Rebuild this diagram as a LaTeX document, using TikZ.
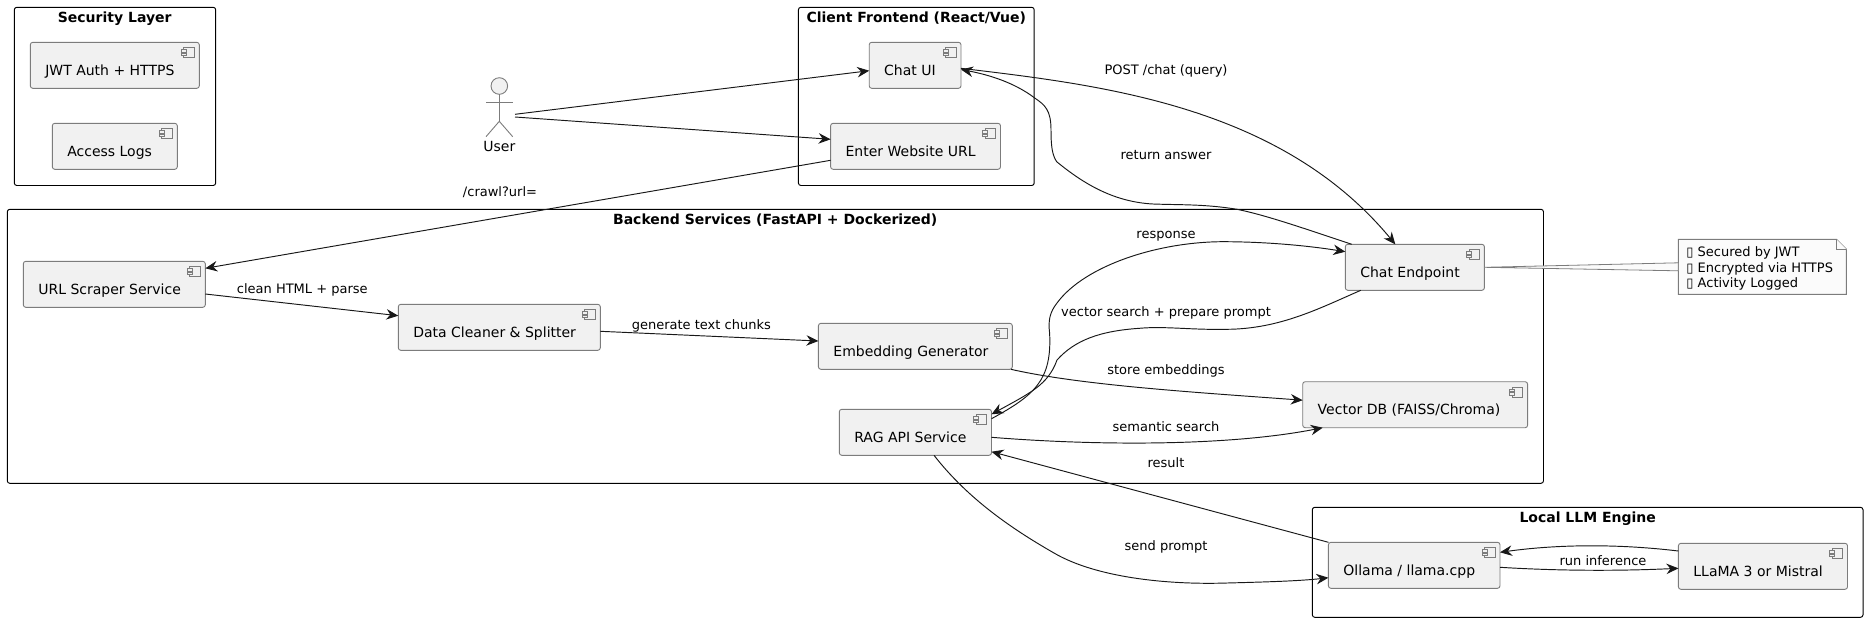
\documentclass[tikz,border=0pt]{standalone}
\usepackage{fontspec}
\setmainfont{DejaVu Sans}
\usetikzlibrary{arrows.meta}
\definecolor{compfill}{HTML}{F1F1F1}
\definecolor{compline}{HTML}{7C7C7C}
\definecolor{inkline}{HTML}{181818}
\definecolor{notefill}{HTML}{FBFBFB}
\tikzset{
  x=1pt,y=-1pt,
  compbox/.style={draw=compline,fill=compfill,line width=0.9pt,rounded corners=2.5pt,outer sep=0pt,inner sep=0pt},
  comptext/.style={anchor=base west,inner sep=0pt,outer sep=0pt,font=\fontsize{14}{14}\selectfont,text=black},
  icon/.style={draw=compline,fill=compfill,line width=0.7pt},
  clusterbox/.style={draw=black,fill=white,line width=0.95pt,rounded corners=2.5pt,outer sep=0pt,inner sep=0pt},
  clustertitle/.style={anchor=base,inner sep=0pt,outer sep=0pt,font=\fontsize{14}{14}\selectfont\bfseries,text=black},
  edgelabel/.style={anchor=base,inner sep=0pt,outer sep=0pt,font=\fontsize{13}{13}\selectfont,text=black},
  flow/.style={draw=inkline,line width=0.95pt,-{Stealth[length=12pt,width=10.5pt,inset=4pt]}},
  notetext/.style={anchor=base west,inner sep=0pt,outer sep=0pt,font=\fontsize{13}{13}\selectfont,text=black},
  actor/.style={draw=compline,line width=0.9pt},
}
\newcommand{\cluster}[7]{% name x1 y1 x2 y2 title titlex
  \node[clusterbox,minimum width={#4-#2},minimum height={#5-#3}] (#1) at ({(#2+#4)/2},{(#3+#5)/2}) {};
  \node[clustertitle] (#1-title) at (#7,#3+15.4) {#6};
}
\newcommand{\comp}[6]{% name x1 y1 x2 y2 text
  \node[compbox,minimum width={#4-#2},minimum height={#5-#3}] (#1) at ({(#2+#4)/2},{(#3+#5)/2}) {};
  \node[comptext] (#1-text) at (#2+15,#3+33) {#6};
  \begin{scope}[shift={(#1.north east)}]
    \path[icon] (-15.5,5.3) rectangle (-5,15.3);
    \path[icon] (-18,7.3) rectangle (-13,9.6);
    \path[icon] (-18,11) rectangle (-13,13.3);
  \end{scope}
}
\newcommand{\tofu}{▯}
\begin{document}
\begin{tikzpicture}
\useasboundingbox (0,0) rectangle (1868,622);
% clusters
\cluster{security}{14.3}{7.3}{215.7}{185.5}{Security Layer}{114.7}
\cluster{client}{798.4}{7.3}{1034.2}{185.5}{Client Frontend (React/Vue)}{916.3}
\cluster{backend}{7.3}{209.3}{1543.5}{483.3}{Backend Services (FastAPI + Dockerized)}{775.2}
\cluster{engine}{1312.3}{507.3}{1863}{617.3}{Local LLM Engine}{1587.7}
% components
\comp{jwt}{30.3}{42.3}{199.3}{88.3}{JWT Auth + HTTPS}
\comp{logs}{52.3}{123.3}{177.3}{169.3}{Access Logs}
\comp{chatui}{869.2}{42.3}{961}{88.3}{Chat UI}
\comp{enter}{830.6}{123.3}{1000.5}{169.3}{Enter Website URL}
\comp{scraper}{23.3}{261.3}{205.3}{307.3}{URL Scraper Service}
\comp{cleaner}{398.3}{304.3}{600.3}{350.3}{Data Cleaner \& Splitter}
\comp{embed}{818.4}{323.3}{1012.3}{369.3}{Embedding Generator}
\comp{chatend}{1345.3}{244.3}{1484.4}{290.3}{Chat Endpoint}
\comp{vecdb}{1302.7}{381.7}{1527.6}{427.7}{Vector DB (FAISS/Chroma)}
\comp{rag}{839.3}{409.3}{991.5}{455.3}{RAG API Service}
\comp{ollama}{1328.4}{542.3}{1500}{588.3}{Ollama / llama.cpp}
\comp{llama}{1678.4}{543.3}{1847.5}{589.3}{LLaMA 3 or Mistral}
% actor
\draw[actor,fill=compfill] (499.3,86) circle (8.3);
\draw[actor] (499.3,94.3) -- (499.3,121.3);
\draw[actor] (486,102) -- (512.7,102);
\draw[actor] (486,136.7) -- (499.3,121.3) -- (512.7,136.7);
\node[anchor=base,inner sep=0pt,font=\fontsize{14}{14}\selectfont] (userlabel) at (499.3,151) {User};
\coordinate (usera) at (515,114.3);
\coordinate (userb) at (515,117);
% note
\node[inner sep=0pt,outer sep=0pt,minimum width=168.1,minimum height=55] (note) at (1762.35,266.8) {};
\path[draw=compline,fill=notefill,line width=0.9pt]
  (note.north west) -- ([xshift=-10pt]note.north east) -- ([yshift=-10pt]note.north east)
  -- (note.south east) -- (note.south west) -- cycle;
\path[draw=compline,fill=notefill,line width=0.7pt]
  ([xshift=-10pt]note.north east) -- ([xshift=-10pt,yshift=-10pt]note.north east) -- ([yshift=-10pt]note.north east);
\node[notetext] (notea) at (1686.4,256.7) {\tofu{} Secured by JWT};
\node[notetext] (noteb) at (1686.4,272) {\tofu{} Encrypted via HTTPS};
\node[notetext] (notec) at (1686.4,287.3) {\tofu{} Activity Logged};
\path[draw=compline,fill=notefill,line width=0.8pt]
  (chatend.east) -- ([yshift=4pt]note.west) -- ([yshift=-4pt]note.west) -- cycle;
% connectors
\draw[flow] (usera) -- ([yshift=-5.4pt]chatui.west);
\draw[flow] (userb) -- ([yshift=7pt]enter.west);
\draw[flow] ([yshift=-14pt]enter.west) -- ([yshift=16pt]scraper.east);
\draw[flow] ([yshift=-9.7pt]scraper.east) -- ([yshift=11.6pt]cleaner.west);
\draw[flow] ([yshift=-4pt]cleaner.east) -- ([yshift=5.3pt]embed.west);
\draw[flow] ([xshift=-1.4pt]embed.south east) .. controls (1080,385) and (1190,392) .. ([yshift=4.5pt]vecdb.west);
\draw[flow] ([yshift=-5pt]rag.east) .. controls (1100,446) and (1230,446) .. ([xshift=20pt]vecdb.south west);
\draw[flow] ([yshift=-3pt]chatui.east) .. controls (1100,85) and (1280,105) .. ([xshift=50pt]chatend.north west);
\draw[flow] ([xshift=6.4pt]chatend.north west)
  .. controls (1300,227) and (1265,215) .. (1237,209.3)
  .. controls (1205,204) and (1180,205) .. (1153,204)
  .. controls (1115,202) and (1085,185) .. (1056.7,161.7)
  .. controls (1052,155) and (1051,145) .. (1051,130)
  .. controls (1051,110) and (1045,105) .. (1034.7,98)
  .. controls (1015,83) and (990,75) .. ([yshift=-4.2pt]chatui.east);
\draw[flow] ([yshift=13.6pt]rag.east)
  .. controls (1035,395) and (1052,380) .. (1049.6,333)
  .. controls (1048,320) and (1050,312) .. (1057,303)
  .. controls (1085,265) and (1160,241) .. (1226.6,241.7)
  .. controls (1270,242) and (1310,246) .. ([yshift=15.6pt]chatend.west);
\draw[flow] ([xshift=15.5pt]chatend.south west)
  .. controls (1320,308) and (1280,329) .. (1226.6,329.3)
  .. controls (1190,330) and (1165,326) .. (1139.3,328.3)
  .. controls (1100,331) and (1075,340) .. (1057,360)
  .. controls (1048,385) and (1030,393) .. ([yshift=18pt]rag.east);
\draw[flow] (ollama.north west) -- ([yshift=-19.4pt]rag.east);
\draw[flow] ([xshift=18.6pt]rag.south)
  .. controls (965,495) and (1005,525) .. (1054,553)
  .. controls (1095,577) and (1165,585) .. (1227,583)
  .. controls (1265,582) and (1300,581) .. ([yshift=-12.4pt]ollama.west);
\draw[flow] ([yshift=-2pt]ollama.east) .. controls (1560,571) and (1620,571) .. ([yshift=-2pt]llama.west);
\draw[flow] ([yshift=15.3pt]llama.west) .. controls (1620,544) and (1560,544) .. ([yshift=13pt]ollama.east);
% connector labels
\node[edgelabel] (l1) at (500,196.7) {/crawl?url=};
\node[edgelabel] (l2) at (302.3,293.3) {clean HTML + parse};
\node[edgelabel] (l3) at (701.3,329) {generate text chunks};
\node[edgelabel] (l4) at (1166,74.3) {POST /chat (query)};
\node[edgelabel] (l5) at (1166,159.3) {return answer};
\node[edgelabel] (l6) at (1166,238.3) {response};
\node[edgelabel] (l7) at (1166,316.7) {vector search + prepare prompt};
\node[edgelabel] (l8) at (1166,374) {store embeddings};
\node[edgelabel] (l9) at (1166,431) {semantic search};
\node[edgelabel] (l10) at (1166,467.3) {result};
\node[edgelabel] (l11) at (1166,550) {send prompt};
\node[edgelabel] (l12) at (1603,565.3) {run inference};
\end{tikzpicture}
\end{document}
